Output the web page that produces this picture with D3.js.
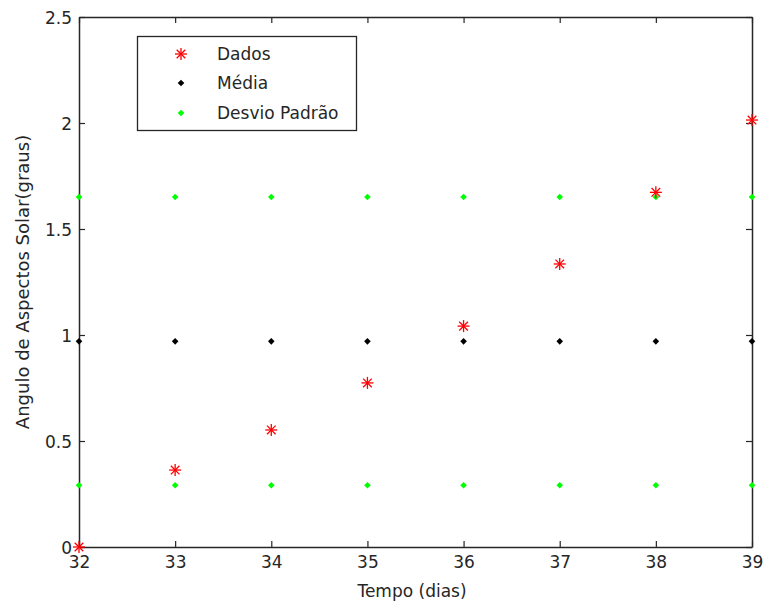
<!DOCTYPE html>
<html><head><meta charset="utf-8">
<script src="https://cdn.jsdelivr.net/npm/d3@7"></script>
<style>body{margin:0;background:#fff}svg{display:block}</style>
</head><body>
<svg id="c" width="763" height="606"></svg>
<script>
const days = [32, 33, 34, 35, 36, 37, 38, 39];
const dados = [0.0, 0.363, 0.552, 0.774, 1.042, 1.335, 1.673, 2.014];
const media = [0.97, 0.97, 0.97, 0.97, 0.97, 0.97, 0.97, 0.97];
const desvioSup = [1.651, 1.651, 1.651, 1.651, 1.651, 1.651, 1.651, 1.651];
const desvioInf = [0.291, 0.291, 0.291, 0.291, 0.291, 0.291, 0.291, 0.291];
const xTicks = [32, 33, 34, 35, 36, 37, 38, 39];
const yTicks = [0, 0.5, 1, 1.5, 2, 2.5];
const legendLabels = ["Dados", "Média", "Desvio Padrão"];

const svg = d3.select("#c");
const L = 79, R = 752, T = 17, B = 547;
const x = d3.scaleLinear().domain([32, 39]).range([L, R]);
const y = d3.scaleLinear().domain([0, 2.5]).range([B, T]);
const font = "'DejaVu Sans', Verdana, sans-serif";
const tickColor = "#262626";
const fs = 17;

// axes
const gb = svg.append("g").attr("transform", `translate(0,${B})`)
  .call(d3.axisBottom(x).tickValues(xTicks).tickFormat(d3.format("d")).tickSizeInner(-6).tickSizeOuter(0).tickPadding(9));
const gt = svg.append("g").attr("transform", `translate(0,${T})`)
  .call(d3.axisTop(x).tickValues(xTicks).tickFormat("").tickSizeInner(-6).tickSizeOuter(0));
const gl = svg.append("g").attr("transform", `translate(${L},0)`)
  .call(d3.axisLeft(y).tickValues(yTicks).tickFormat(d => d3.format("")(d)).tickSizeInner(-6).tickSizeOuter(0).tickPadding(7));
const gr = svg.append("g").attr("transform", `translate(${R},0)`)
  .call(d3.axisRight(y).tickValues(yTicks).tickFormat("").tickSizeInner(-6).tickSizeOuter(0));
[gb, gt, gl, gr].forEach(g => {
  g.selectAll("path.domain").attr("stroke", tickColor).attr("stroke-width", 1.5);
  g.selectAll(".tick line").attr("stroke", tickColor).attr("stroke-width", 1.2);
  g.selectAll("text").attr("font-family", font).attr("font-size", fs).attr("fill", "#262626");
});
gb.selectAll("text").attr("dy", "0.71em");
gl.selectAll("text").attr("dy", "0.36em");

// markers
function star(g, cx, cy, s) {
  const p = g.append("g").attr("stroke", "#ff0000").attr("stroke-width", 1.3);
  p.append("line").attr("x1", cx - s).attr("x2", cx + s).attr("y1", cy).attr("y2", cy);
  p.append("line").attr("x1", cx).attr("x2", cx).attr("y1", cy - s).attr("y2", cy + s);
  const d = s * 0.72;
  p.append("line").attr("x1", cx - d).attr("x2", cx + d).attr("y1", cy - d).attr("y2", cy + d);
  p.append("line").attr("x1", cx - d).attr("x2", cx + d).attr("y1", cy + d).attr("y2", cy - d);
}
function dot(g, cx, cy, color) {
  g.append("path").attr("d", `M${cx},${cy-3.3}L${cx+3.3},${cy}L${cx},${cy+3.3}L${cx-3.3},${cy}Z`).attr("fill", color);
}
const mk = svg.append("g");
days.forEach((d, i) => dot(mk, x(d), y(desvioSup[i]), "#00ff00"));
days.forEach((d, i) => dot(mk, x(d), y(desvioInf[i]), "#00ff00"));
days.forEach((d, i) => dot(mk, x(d), y(media[i]), "#000000"));
days.forEach((d, i) => star(mk, x(d), y(dados[i]), 6));

// legend
const lg = svg.append("g");
lg.append("rect").attr("x", 137.5).attr("y", 36.5).attr("width", 219).attr("height", 94)
  .attr("fill", "#fff").attr("stroke", "#262626").attr("stroke-width", 1.3);
const ly = [54, 83, 113];
star(lg, 181, ly[0], 6);
dot(lg, 181, ly[1], "#000000");
dot(lg, 181, ly[2], "#00ff00");
legendLabels.forEach((t, i) => lg.append("text").attr("x", 217).attr("y", ly[i]).attr("dy", "0.36em")
  .attr("font-family", font).attr("font-size", fs).attr("fill", "#262626").text(t));

// axis labels
svg.append("text").attr("x", 412).attr("y", 597).attr("text-anchor", "middle")
  .attr("font-family", font).attr("font-size", fs).attr("fill", "#262626").text("Tempo (dias)");
svg.append("text").attr("transform", `translate(29,${(T + B) / 2}) rotate(-90)`).attr("text-anchor", "middle")
  .attr("font-family", font).attr("font-size", 18).attr("fill", "#262626").text("Angulo de Aspectos Solar(graus)");
</script>
</body></html>
